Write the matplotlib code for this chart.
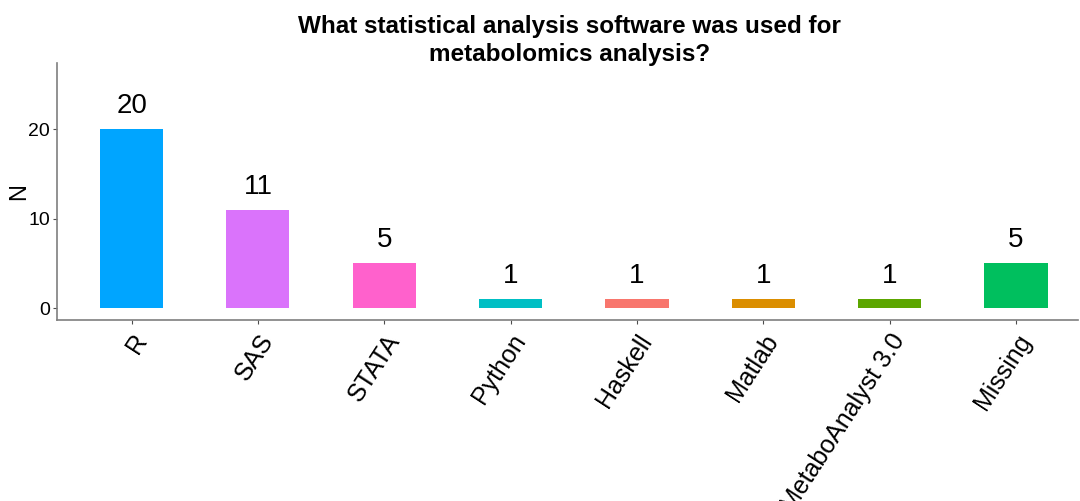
import matplotlib
matplotlib.use("Agg")
import matplotlib.pyplot as plt

# Dados
softwares = ["R", "SAS", "STATA", "Python", "Haskell", "Matlab", "MetaboAnalyst 3.0", "Missing"]
contagens = [20, 11, 5, 1, 1, 1, 1, 5]
cores = ["#00A5FF", "#DA73FB", "#FF61CC", "#00BFC4", "#F8766D", "#DB8E00", "#5CA600", "#00BF5E"]
ticks_y = [0, 10, 20]

plt.rcParams["font.family"] = ["Liberation Sans", "DejaVu Sans"]

fig = plt.figure(figsize=(10.8, 5.01), dpi=100)
ax = fig.add_axes([0.0528, 0.361, 0.9452, 0.513])

posicoes = list(range(1, len(softwares) + 1))
ax.bar(posicoes, contagens, width=0.5, color=cores, edgecolor="none")

# Rótulos de valor acima das barras
for x, v in zip(posicoes, contagens):
    ax.text(x, v + 2.6, str(v), ha="center", va="center", fontsize=20, color="black")

ax.set_xlim(0.41, 8.49)
ax.set_ylim(-1.34, 27.4)
ax.set_xticks(posicoes)
ax.set_xticklabels(softwares, rotation=57, ha="right", va="top",
                   rotation_mode="anchor", fontsize=18)
ax.set_yticks(ticks_y)
ax.tick_params(axis="y", labelsize=14, length=3, color="#4d4d4d", pad=2)
ax.tick_params(axis="x", length=3, color="#4d4d4d", pad=4)

# Rótulo do eixo y posicionado manualmente
fig.text(0.0175, 0.618, "N", rotation=90, ha="center", va="center", fontsize=17)

for lado in ["top", "right"]:
    ax.spines[lado].set_visible(False)
for lado in ["left", "bottom"]:
    ax.spines[lado].set_color("#7f7f7f")
    ax.spines[lado].set_linewidth(1.2)

fig.suptitle("What statistical analysis software was used for\nmetabolomics analysis?",
             x=0.527, y=0.97, fontsize=17.5, fontweight="bold", linespacing=1.3)

fig.savefig("out.png", dpi=100)
